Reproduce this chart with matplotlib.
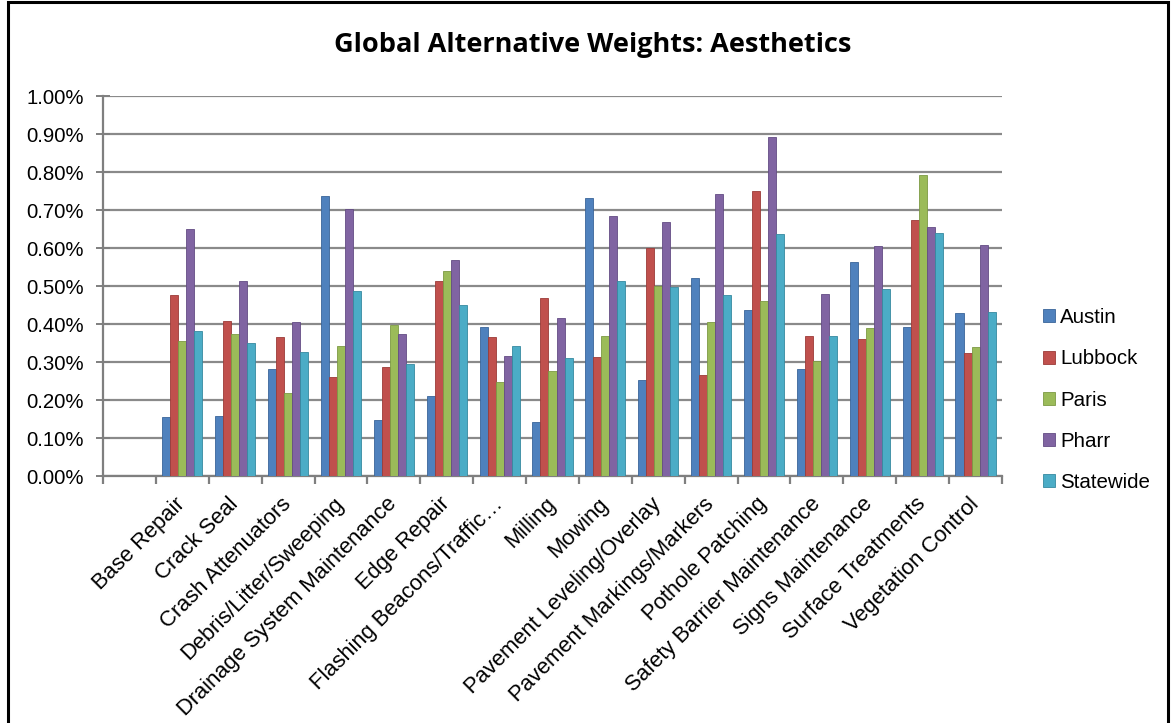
import matplotlib.pyplot as plt
import numpy as np
from matplotlib.patches import Rectangle

# categories (first slot on the axis is left empty in the original)
categories = ["Base Repair", "Crack Seal", "Crash Attenuators",
              "Debris/Litter/Sweeping", "Drainage System Maintenance",
              "Edge Repair", "Flashing Beacons/Traffic\u2026", "Milling",
              "Mowing", "Pavement Leveling/Overlay",
              "Pavement Markings/Markers", "Pothole Patching",
              "Safety Barrier Maintenance", "Signs Maintenance",
              "Surface Treatments", "Vegetation Control"]

series_names = ["Austin", "Lubbock", "Paris", "Pharr", "Statewide"]

# values in percent
austin = [0.154, 0.157, 0.282, 0.738, 0.147, 0.211, 0.393, 0.142,
          0.731, 0.253, 0.522, 0.437, 0.282, 0.562, 0.393, 0.428]
lubbock = [0.476, 0.409, 0.365, 0.261, 0.286, 0.513, 0.365, 0.468,
           0.314, 0.599, 0.266, 0.751, 0.369, 0.360, 0.675, 0.325]
paris = [0.356, 0.373, 0.219, 0.342, 0.397, 0.540, 0.247, 0.277,
         0.368, 0.500, 0.406, 0.461, 0.303, 0.389, 0.791, 0.339]
pharr = [0.649, 0.512, 0.406, 0.702, 0.374, 0.568, 0.317, 0.415,
         0.685, 0.669, 0.741, 0.893, 0.478, 0.604, 0.656, 0.607]
statewide = [0.382, 0.351, 0.327, 0.487, 0.295, 0.449, 0.342, 0.311,
             0.514, 0.498, 0.476, 0.637, 0.369, 0.492, 0.639, 0.432]

colors = ["#4F81BD", "#C0504D", "#9BBB59", "#8064A2", "#4BACC6"]
edges = ["#3A6599", "#9C3B38", "#7D9A44", "#634C84", "#3689A0"]

font = "Liberation Sans"

fig = plt.figure(figsize=(11.72, 7.23), dpi=100)
ax = fig.add_axes([103 / 1172, 1 - 476 / 723, (1002 - 103) / 1172, (476 - 96) / 723])

x = np.arange(1, len(categories) + 1)
w = 0.152
all_series = [austin, lubbock, paris, pharr, statewide]
for i, (name, vals) in enumerate(zip(series_names, all_series)):
    ax.bar(x + (i - 2) * w, vals, width=w, color=colors[i],
           edgecolor=edges[i], linewidth=0.6, label=name, zorder=3)

ax.set_xlim(-0.5, len(categories) + 0.5)
ax.set_ylim(0, 1.0)
ax.set_yticks(np.arange(0, 1.01, 0.1))
ax.set_yticklabels(["%.2f%%" % v for v in np.arange(0, 1.01, 0.1)],
                   fontsize=14.7, family=font)
ax.yaxis.grid(True, color="#8a8a8a", linewidth=1.6, zorder=0)
ax.set_axisbelow(True)

ax.set_xticks(x)
ax.set_xticklabels(categories, rotation=45, ha="right", va="center",
                   rotation_mode="anchor", fontsize=15.8, family=font)
ax.set_xticks(np.arange(-0.5, len(categories) + 1), minor=True)
ax.tick_params(axis="x", which="major", length=0, pad=18)
ax.tick_params(axis="x", which="minor", length=6, width=1.6,
               color="#7f7f7f", direction="out")
ax.tick_params(axis="y", length=10, width=1.4, color="#7f7f7f",
               direction="inout", pad=9)

for s in ["top", "right"]:
    ax.spines[s].set_visible(False)
for s in ["left", "bottom"]:
    ax.spines[s].set_color("#7f7f7f")
    ax.spines[s].set_linewidth(1.6)

fig.text(593 / 1172, 1 - 45 / 723, "Global Alternative Weights: Aesthetics",
         ha="center", va="center", fontsize=19.5, fontweight="bold",
         family="Open Sans")

leg = ax.legend(loc="center left", bbox_to_anchor=(1.025, 0.2),
                frameon=False, prop={"family": font, "size": 14.8},
                handlelength=0.6, handleheight=0.6, handletextpad=0.25,
                labelspacing=1.08)

# outer frame of the chart object
fig.patches.append(Rectangle((8 / 1172, -0.02), (1168 - 8) / 1172, 1 - 2 / 723 + 0.02,
                             transform=fig.transFigure, fill=False,
                             edgecolor="black", linewidth=2.2))

fig.savefig("out.png", dpi=100)
